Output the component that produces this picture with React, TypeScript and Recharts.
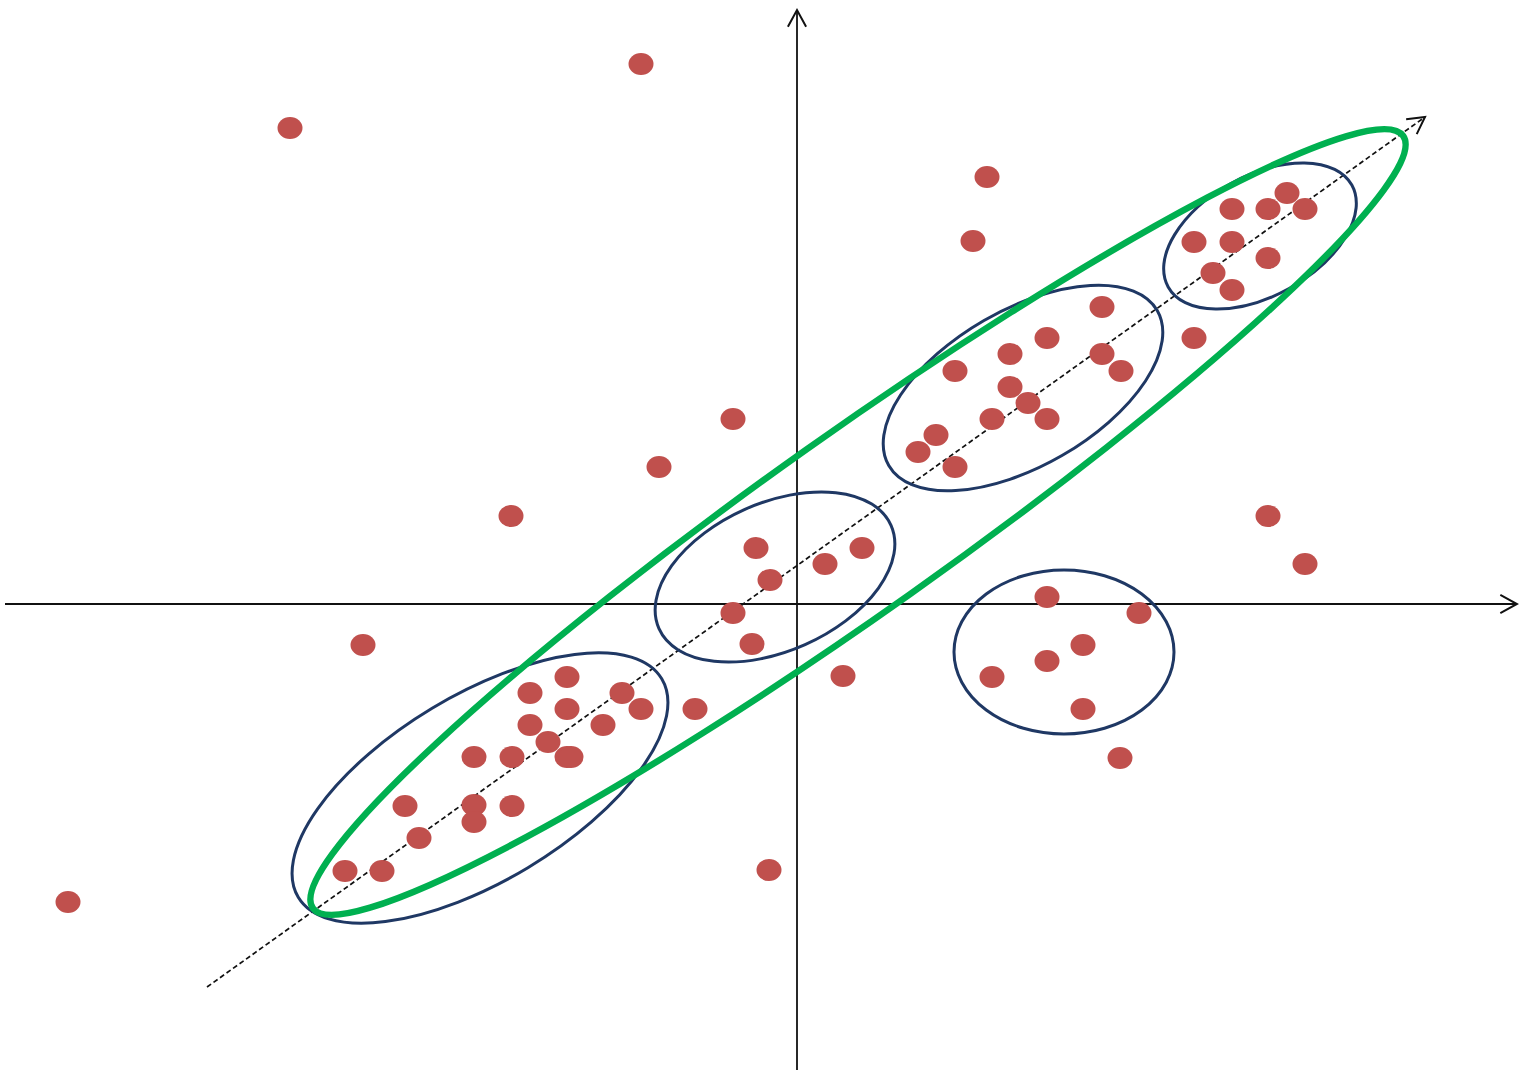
import { ReferenceLine, Scatter, ScatterChart, XAxis, YAxis } from "recharts";

// coordinates are measured from the crossing of the two axes (1 unit = 1px, y up)
const outliers = [
  { x: -156, y: 540 }, { x: -507, y: 476 }, { x: 190, y: 427 }, { x: 176, y: 363 },
  { x: -64, y: 185 }, { x: -138, y: 137 }, { x: -286, y: 88 }, { x: 471, y: 88 },
  { x: 508, y: 40 }, { x: -434, y: -41 }, { x: 46, y: -72 }, { x: 323, y: -154 },
  { x: -28, y: -266 }, { x: -729, y: -298 }, { x: -102, y: -105 }, { x: 397, y: 266 },
];

const clusterTopRight = [
  { x: 490, y: 411 }, { x: 435, y: 395 }, { x: 471, y: 395 }, { x: 508, y: 395 },
  { x: 397, y: 362 }, { x: 435, y: 362 }, { x: 471, y: 346 }, { x: 416, y: 331 },
  { x: 435, y: 314 },
];

const clusterUpperMid = [
  { x: 305, y: 297 }, { x: 250, y: 266 }, { x: 213, y: 250 }, { x: 158, y: 233 },
  { x: 305, y: 250 }, { x: 324, y: 233 }, { x: 213, y: 217 }, { x: 231, y: 201 },
  { x: 195, y: 185 }, { x: 250, y: 185 }, { x: 139, y: 169 }, { x: 121, y: 152 },
  { x: 158, y: 137 },
];

const clusterCenter = [
  { x: -41, y: 56 }, { x: 65, y: 56 }, { x: 28, y: 40 }, { x: -27, y: 24 },
  { x: -64, y: -9 }, { x: -45, y: -40 },
];

const clusterLowerRight = [
  { x: 250, y: 7 }, { x: 342, y: -9 }, { x: 286, y: -41 }, { x: 250, y: -57 },
  { x: 195, y: -73 }, { x: 286, y: -105 },
];

const clusterLowerLeft = [
  { x: -230, y: -73 }, { x: -267, y: -89 }, { x: -175, y: -89 }, { x: -230, y: -105 },
  { x: -156, y: -105 }, { x: -267, y: -121 }, { x: -194, y: -121 }, { x: -249, y: -138 },
  { x: -323, y: -153 }, { x: -285, y: -153 }, { x: -230, y: -153 }, { x: -226, y: -153 },
  { x: -392, y: -202 }, { x: -323, y: -201 }, { x: -285, y: -202 }, { x: -323, y: -218 },
  { x: -378, y: -234 }, { x: -452, y: -267 }, { x: -415, y: -267 },
];

// ellipse centres (data) and outline size
const blueCenters = [
  { x: -317, y: -184 }, { x: -22, y: 27 }, { x: 226, y: 216 },
  { x: 463, y: 368 }, { x: 267, y: -48 },
];
const blueSizes = [
  { a: 212, b: 93, tilt: 31 }, { a: 127, b: 74, tilt: 24 }, { a: 155, b: 78, tilt: 30 },
  { a: 105, b: 60, tilt: 29 }, { a: 110, b: 82, tilt: 0 },
];
const greenCenter = [{ x: 61, y: 82 }];
const greenSize = { a: 668, b: 89, tilt: 35.3 };

const xAxisSeg = [{ x: -792, y: 0 }, { x: 720, y: 0 }];
const yAxisSeg = [{ x: 0, y: -466 }, { x: 0, y: 594 }];
const trendSeg = [{ x: -590, y: -383 }, { x: 628, y: 487 }];

const RED = "#c0504d";
const NAVY = "#1f3864";
const GREEN = "#00b050";

const dot = (p: any) => (
  <ellipse cx={p.cx} cy={p.cy} rx={12.5} ry={11} fill={RED} />
);

const ring = (s: { a: number; b: number; tilt: number }, color: string, w: number) =>
  (p: any) => (
    <ellipse
      cx={p.cx}
      cy={p.cy}
      rx={s.a}
      ry={s.b}
      fill="none"
      stroke={color}
      strokeWidth={w}
      transform={`rotate(${-s.tilt} ${p.cx} ${p.cy})`}
    />
  );

const arrowLine = (dash?: string, width = 1.6) => (p: any) => {
  const { x1, y1, x2, y2 } = p;
  const ang = Math.atan2(y2 - y1, x2 - x1);
  const L = 19;
  const spread = 0.5;
  const ax = x2 - L * Math.cos(ang - spread);
  const ay = y2 - L * Math.sin(ang - spread);
  const bx = x2 - L * Math.cos(ang + spread);
  const by = y2 - L * Math.sin(ang + spread);
  return (
    <g>
      <line x1={x1} y1={y1} x2={x2} y2={y2} stroke="#111" strokeWidth={width} strokeDasharray={dash} />
      <polyline points={`${ax},${ay} ${x2},${y2} ${bx},${by}`} fill="none" stroke="#111" strokeWidth={2} />
    </g>
  );
};

export default function App() {
  const all = [
    ...outliers, ...clusterTopRight, ...clusterUpperMid,
    ...clusterCenter, ...clusterLowerRight, ...clusterLowerLeft,
  ];
  return (
    <div style={{ position: "absolute", left: 0, top: 0, background: "#fff" }}>
      <ScatterChart width={1519} height={1075} margin={{ top: 0, right: 0, bottom: 0, left: 0 }}>
        <XAxis type="number" dataKey="x" domain={[-797, 722]} hide allowDataOverflow />
        <YAxis type="number" dataKey="y" domain={[-471, 604]} hide allowDataOverflow />
        <ReferenceLine segment={xAxisSeg} ifOverflow="visible" shape={arrowLine(undefined, 1.8)} />
        <ReferenceLine segment={yAxisSeg} ifOverflow="visible" shape={arrowLine(undefined, 1.8)} />
        <ReferenceLine segment={trendSeg} ifOverflow="visible" shape={arrowLine("5 3", 1.7)} />
        {blueCenters.map((c, i) => (
          <Scatter
            key={i}
            data={[c]}
            isAnimationActive={false}
            shape={ring(blueSizes[i], NAVY, 3)}
          />
        ))}
        <Scatter data={greenCenter} isAnimationActive={false} shape={ring(greenSize, GREEN, 6.5)} />
        <Scatter data={all} isAnimationActive={false} shape={dot} />
      </ScatterChart>
    </div>
  );
}
